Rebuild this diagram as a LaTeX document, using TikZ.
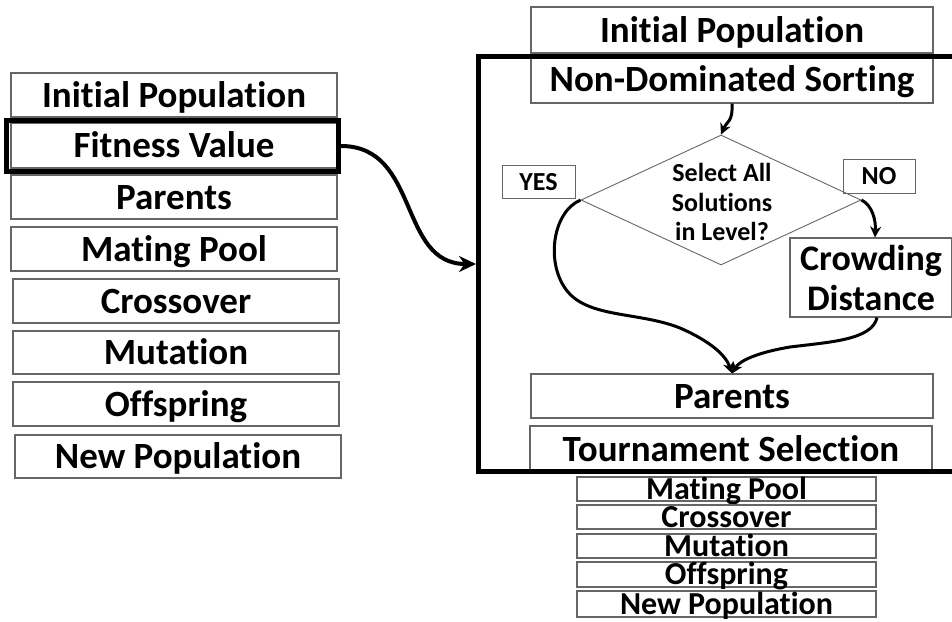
\documentclass[tikz,border=0pt]{standalone}
\usepackage{fontspec}
\setmainfont{Carlito}[Ligatures=NoCommon]
\usetikzlibrary{arrows.meta,shapes.geometric}
\begin{document}
\begin{tikzpicture}[x=1pt,y=-1pt,
  box/.style={draw=black!60,line width=1.1pt,inner sep=0pt,
    font=\bfseries\fontsize{37}{40}\selectfont,text height=24pt,text depth=0pt},
  sbox/.style={draw=black!60,line width=1.1pt,inner sep=0pt,minimum width=299pt,
    font=\bfseries\fontsize{32}{34}\selectfont,text height=20pt,text depth=0pt},
  lbl/.style={draw=black!60,line width=1pt,inner sep=0pt,
    font=\bfseries\fontsize{26}{28}\selectfont,text height=17pt,text depth=0pt},
  frame/.style={line width=5pt},
  arr/.style={line width=3pt,-{Stealth[length=11pt,width=11pt]}},
  bigarr/.style={line width=4pt,-{Stealth[length=17pt,width=16pt]}}]
\useasboundingbox (0,0) rectangle (952,621);
\clip (0,0) rectangle (952,621);
% left column
\node[box,minimum width=326pt,minimum height=44pt] (lip) at (174,95) {Initial Population};
\node[box,minimum width=326pt,minimum height=45pt] (lfit) at (174,145.5) {Fitness Value};
\node[box,minimum width=326pt,minimum height=44pt] (lpar) at (174,197) {Parents};
\node[box,minimum width=326pt,minimum height=44pt] (lmat) at (174,249) {Mating Pool};
\node[box,minimum width=326pt,minimum height=44pt] (lcro) at (176,301) {Crossover};
\node[box,minimum width=326pt,minimum height=43pt] (lmut) at (176,352.5) {Mutation};
\node[box,minimum width=326pt,minimum height=44pt] (loff) at (176,404) {Offspring};
\node[box,minimum width=326pt,minimum height=43pt] (lnew) at (178,456.5) {New Population};
\node[draw,frame,inner sep=0pt,minimum width=332pt,minimum height=51pt] (lfitF) at (172.5,146) {};
% right column
\node[box,minimum width=402pt,minimum height=46pt] (rip) at (732,30) {Initial Population};
\node[box,minimum width=402pt,minimum height=48pt] (rnds) at (732,79) {Non-Dominated Sorting};
\node[diamond,draw=black!60,line width=0.9pt,inner sep=0pt,minimum width=280pt,minimum height=130pt] (dia) at (721,200) {};
\node[align=center,inner sep=0pt,font=\bfseries\fontsize{26}{29.5}\selectfont] (diat) at (722,202) {Select All\\Solutions\\in Level?};
\node[lbl,minimum width=73pt,minimum height=33pt] (yes) at (538.5,181.5) {YES};
\node[lbl,minimum width=72pt,minimum height=34pt] (no) at (879,176) {NO};
\node[draw=black!60,line width=1.1pt,inner sep=0pt,minimum width=162pt,minimum height=79pt,align=center,
  font=\bfseries\fontsize{36}{40}\selectfont] (crowd) at (871,277.5) {Crowding\\Distance};
\node[box,minimum width=402pt,minimum height=44pt] (rpar) at (732,396) {Parents};
\node[box,minimum width=402pt,minimum height=46pt] (rtour) at (731,449) {Tournament Selection};
\node[sbox,minimum height=24pt] (smat) at (726.5,489) {Mating Pool};
\node[sbox,minimum height=24pt] (scro) at (726.5,517) {Crossover};
\node[sbox,minimum height=24pt] (smut) at (726.5,546) {Mutation};
\node[sbox,minimum height=25pt] (soff) at (726.5,574.5) {Offspring};
\node[sbox,minimum height=26pt] (snew) at (726.5,604) {New Population};
% big frame
\coordinate (fin) at (476,264);
\draw[frame] (975,56) -- (478,56) -- (478,471) -- (975,471);
% connectors
\draw[bigarr] (lfitF.east) .. controls (420,146) and (398,264) .. (fin);
\draw[arr] (rnds.south) .. controls (733,122) and (727,121) .. (dia.north);
\draw[arr] (dia.east) .. controls (872,205) and (876,220) .. ([xshift=4pt]crowd.north);
\draw[arr] (dia.west) .. controls (552,212) and (545,265) .. (568,292)
  .. controls (590,318) and (640,312) .. (680,328)
  .. controls (712,342) and (726,356) .. (rpar.north);
\draw[arr] ([xshift=6pt]crowd.south) .. controls (872,340) and (830,342) .. (790,347)
  .. controls (760,352) and (740,360) .. (rpar.north);
\end{tikzpicture}
\end{document}
